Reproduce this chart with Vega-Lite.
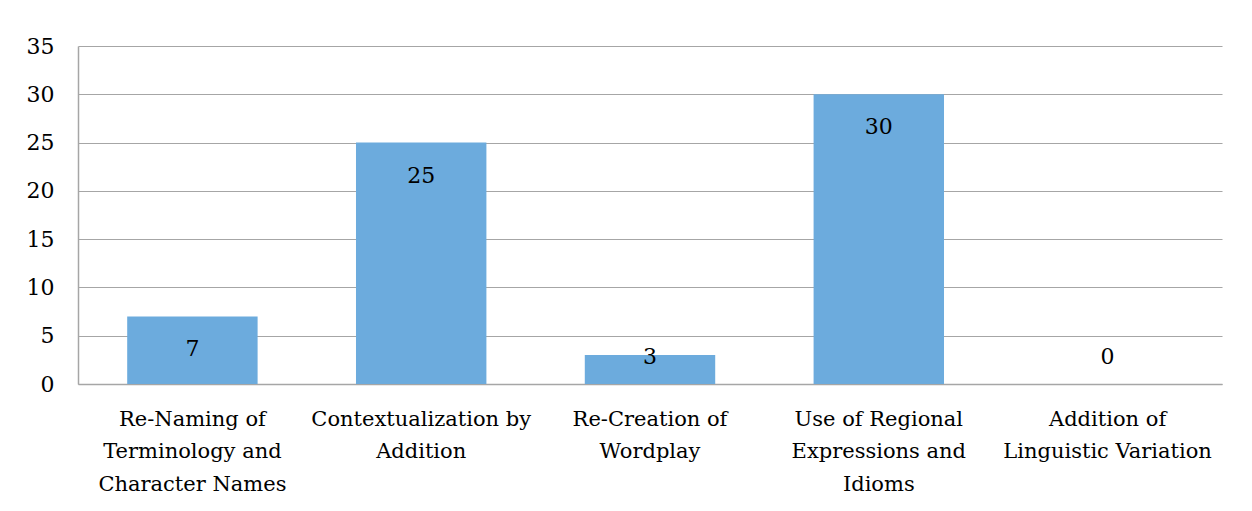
{
  "$schema": "https://vega.github.io/schema/vega-lite/v6.json",
  "width": 1144,
  "height": 338,
  "autosize": {"type": "none"},
  "padding": {"left": 78, "top": 46, "right": 30, "bottom": 127},
  "background": "white",
  "config": {
    "view": {"stroke": null},
    "font": "DejaVu Serif",
    "axis": {"labelFont": "DejaVu Serif", "labelColor": "#000000"},
    "text": {"font": "DejaVu Serif"}
  },
  "data": {
    "values": [
      {"category": "Re-Naming of|Terminology and|Character Names", "value": 7},
      {"category": "Contextualization by|Addition", "value": 25},
      {"category": "Re-Creation of|Wordplay", "value": 3},
      {"category": "Use of Regional|Expressions and|Idioms", "value": 30},
      {"category": "Addition of|Linguistic Variation", "value": 0}
    ]
  },
  "encoding": {
    "x": {
      "field": "category",
      "type": "nominal",
      "sort": null,
      "scale": {"paddingInner": 0.43, "paddingOuter": 0.215},
      "axis": {
        "title": null,
        "labelAngle": 0,
        "labelExpr": "split(datum.label, '|')",
        "labelFontSize": 21,
        "labelLineHeight": 32.5,
        "labelPadding": 24,
        "labelLimit": 400,
        "ticks": false,
        "domainColor": "#a6a6a6",
        "domainWidth": 1.5
      }
    }
  },
  "layer": [
    {
      "mark": {"type": "bar", "color": "#6CABDD"},
      "encoding": {
        "y": {
          "field": "value",
          "type": "quantitative",
          "scale": {"domain": [0, 35], "nice": false},
          "axis": {
            "title": null,
            "values": [0, 5, 10, 15, 20, 25, 30, 35],
            "labelFontSize": 22,
            "labelPadding": 24,
            "ticks": false,
            "gridColor": "#a6a6a6",
            "gridWidth": 1.2,
            "domainColor": "#a6a6a6",
            "domainWidth": 1.5
          }
        }
      }
    },
    {
      "transform": [{"calculate": "max(datum.value - 3.42, 2.8)", "as": "labelPos"}],
      "mark": {"type": "text", "fontSize": 22, "color": "#000000", "baseline": "middle"},
      "encoding": {
        "y": {"field": "labelPos", "type": "quantitative"},
        "text": {"field": "value", "type": "quantitative"}
      }
    }
  ]
}
